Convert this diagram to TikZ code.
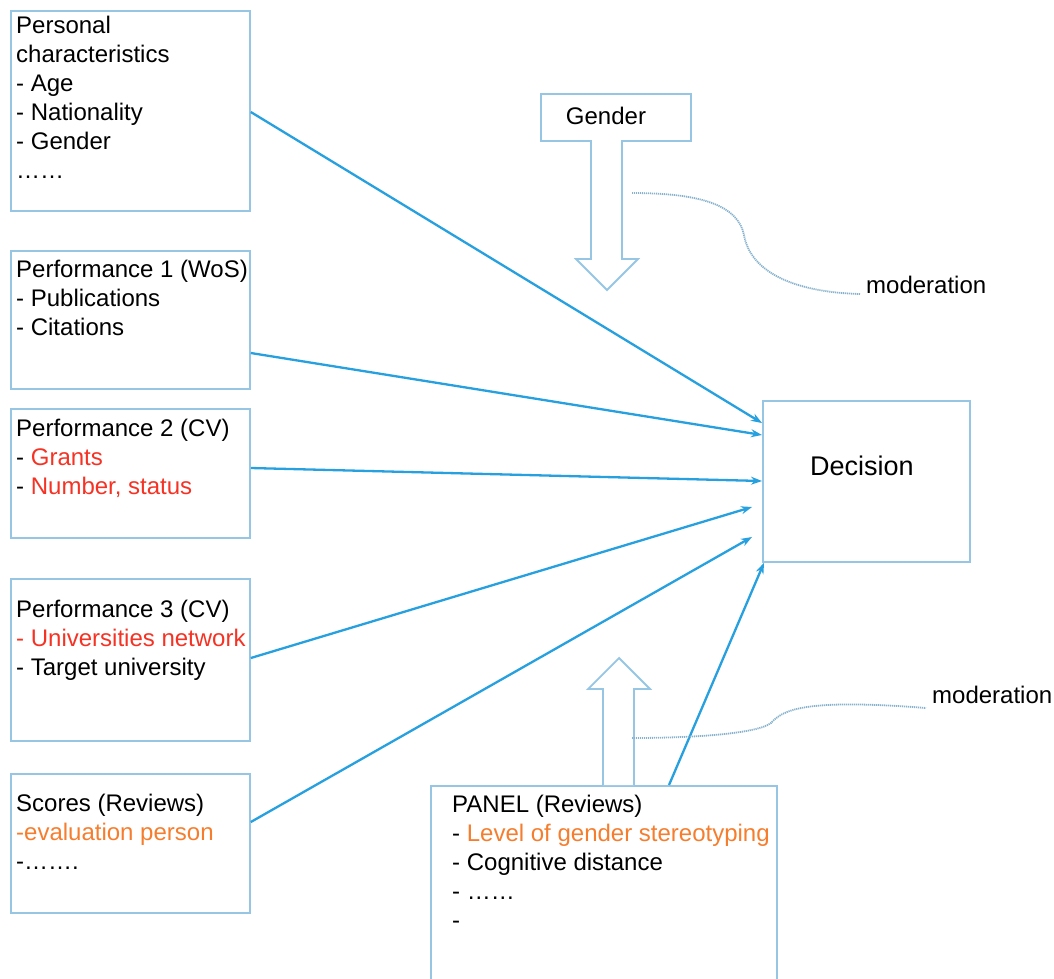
\documentclass[tikz,border=0pt]{standalone}
\usepackage{fontspec}
\setmainfont{Liberation Sans}
\usetikzlibrary{arrows.meta}
\definecolor{boxblue}{RGB}{150,198,228}
\definecolor{lineblue}{RGB}{38,160,222}
\definecolor{txtred}{RGB}{245,50,35}
\definecolor{txtorange}{RGB}{245,125,45}
\begin{document}
\begin{tikzpicture}[x=1pt, y=-1pt,
    box/.style={draw=boxblue, line width=1.8pt, anchor=north west, inner sep=0pt},
    txt/.style={anchor=north west, align=left, inner sep=0pt, font=\fontsize{24}{29}\selectfont},
    link/.style={draw=lineblue, line width=2.3pt, -{Stealth[length=11pt,width=8pt]}},
    hollow/.style={draw=boxblue, line width=1.8pt, fill=white},
    moder/.style={draw=boxblue!90!black, line width=1.8pt, dash pattern=on 1.2pt off 0.8pt}]
    \useasboundingbox (0,0) rectangle (1054,978);

    \node[box, minimum width=239pt, minimum height=200pt] (pers) at (10,10) {};
    \node[txt] (perstxt) at (16,16) {Personal\\characteristics\\- Age\\- Nationality\\- Gender\\……};

    \node[box, minimum width=239pt, minimum height=138pt] (perfa) at (10,250) {};
    \node[txt] (perfatxt) at (16,260) {Performance 1 (WoS)\\- Publications\\- Citations};

    \node[box, minimum width=239pt, minimum height=129pt] (perfb) at (10,408) {};
    \node[txt] (perfbtxt) at (16,419) {Performance 2 (CV)\\- \textcolor{txtred}{Grants}\\- \textcolor{txtred}{Number, status}};

    \node[box, minimum width=239pt, minimum height=162pt] (perfc) at (10,578) {};
    \node[txt] (perfctxt) at (16,600) {Performance 3 (CV)\\\textcolor{txtred}{- Universities network}\\- Target university};

    \node[box, minimum width=239pt, minimum height=139pt] (scores) at (10,773) {};
    \node[txt] (scorestxt) at (16,794) {Scores (Reviews)\\\textcolor{txtorange}{-evaluation person}\\-…….};

    \node[box, minimum width=150pt, minimum height=47pt] (gender) at (540,93) {};
    \node[font=\fontsize{24}{29}\selectfont, inner sep=0pt] (gendertxt) at (606,116) {Gender};

    \node[box, minimum width=207pt, minimum height=161pt] (dec) at (762,400) {};
    \node[font=\fontsize{27}{32}\selectfont, inner sep=0pt] (dectxt) at (862,466) {Decision};

    \node[box, minimum width=346pt, minimum height=215pt] (panel) at (430,785) {};
    \node[txt] (paneltxt) at (452,795) {PANEL (Reviews)\\- \textcolor{txtorange}{Level of gender stereotyping}\\- Cognitive distance\\- ……\\-};

    \draw[link] ([yshift=-102pt]pers.north east) -- ([yshift=-23pt]dec.north west);
    \draw[link] ([yshift=-103pt]perfa.north east) -- ([yshift=-35pt]dec.north west);
    \draw[link] ([yshift=-60pt]perfb.north east) -- ([yshift=-81pt]dec.north west);
    \draw[link] ([yshift=-80pt]perfc.north east) -- ([xshift=-10pt,yshift=-107pt]dec.north west);
    \draw[link] ([yshift=-49pt]scores.north east) -- ([xshift=-10pt,yshift=-137pt]dec.north west);
    \draw[link] ([xshift=239pt]panel.north west) -- ([xshift=2pt]dec.south west);

    \draw[hollow] (591,140) -- (591,259) -- (576,259) -- (607,290) -- (638,259) -- (622,259) -- (622,140);
    \draw[hollow] (603,785) -- (603,689) -- (588,689) -- (619,658) -- (650,689) -- (634,689) -- (634,785);

    \node[anchor=base west, inner sep=0pt, font=\fontsize{24}{29}\selectfont] (modtop) at (866,293) {moderation};
    \node[anchor=base west, inner sep=0pt, font=\fontsize{24}{29}\selectfont] (modbot) at (932,703) {moderation};
    \coordinate (modtopstart) at (632,193);
    \coordinate (modbotstart) at (632,738);
    \draw[moder] (modtopstart) .. controls (700,193) and (738,205) .. (744,235)
        .. controls (750,270) and (790,292) .. ([xshift=-6pt,yshift=-1pt]modtop.base west);
    \draw[moder] (modbotstart) .. controls (700,738) and (758,733) .. (771,723)
        .. controls (782,711) and (800,698) .. ([xshift=-6pt,yshift=-5pt]modbot.base west);
\end{tikzpicture}
\end{document}
